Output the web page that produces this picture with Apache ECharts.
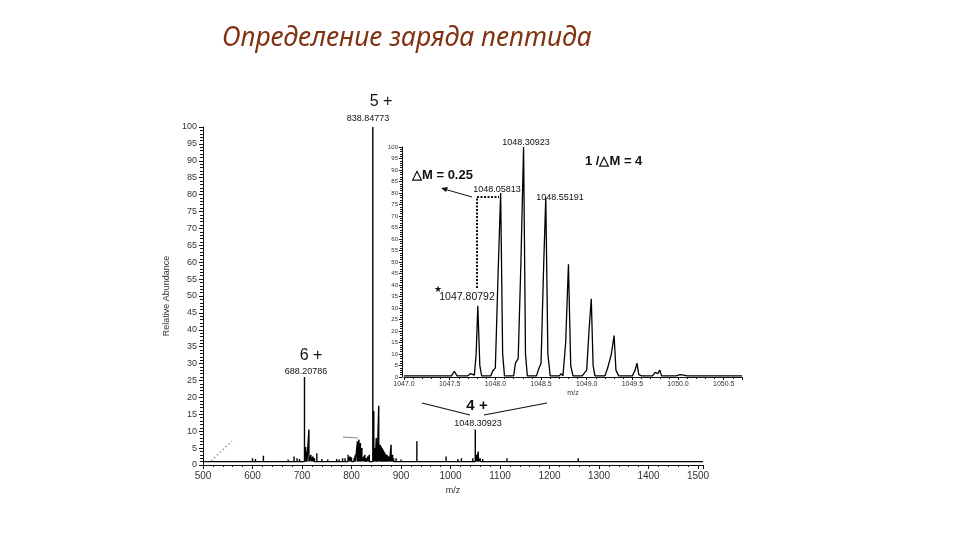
<!DOCTYPE html>
<html><head><meta charset="utf-8">
<script src="https://cdn.jsdelivr.net/npm/echarts@6/dist/echarts.min.js"></script>
<style>html,body{margin:0;padding:0;background:#fff}#c{width:960px;height:540px}</style>
</head><body><div id="c"></div>
<script>
// ---------- data ----------
const titleText = 'Определение заряда пептида';
const mainYName = 'Relative Abundance';
const xName = 'm/z';
// main spectrum: stick peaks (m/z, relative abundance)
const mainPeakMz  = [520,545,575,600,606,622,640,650,661,665,672,684,690,695,705,707.5,710,714,718,722,725,730,740,745,752,760,770,775,782,787,793,797,800,805,808,812,815,818,821,825,827,830,833,836,843,845,848,850,852,855,858,860,862,864,866,868,870,872,875,877,880,883,885,890,895,900,910,920,932,940,950,960,970,980,991,1000,1015,1022,1030,1040,1045,1050,1053,1056,1060,1065,1070,1085,1100,1114,1130,1150,1180,1200,1258,1330,1400];
const mainPeakInt = [1.3,1.2,1.3,2,1.8,2.7,1.3,1.4,1.5,1.3,1.6,2.5,2,1.8,26,5.3,4,10.5,3,2.5,2,3.5,1.8,1.5,1.6,1.4,1.8,1.6,2,2,3,2.5,2.2,2,3,7,7.5,6.5,5,2.5,3,2,2.5,3,100,16,5,8,6,17.5,6,5.5,5,4.5,4,3.5,3,3,2.5,2.5,6,3,2,2,1.5,1.6,1.5,1.4,7,1.5,1.5,1.4,1.5,1.4,2.5,1.5,1.8,2,1.5,1.5,2,10.5,3,4,2,1.8,1.5,1.5,1.4,2,1.3,1.2,1.3,1.2,2,1.2,1.2];
const mainBaseline = 1;
const mainRange = [500, 1510];
// inset: isotope cluster profile (m/z, relative abundance)
const insetMz  = [1047.0,1047.28,1047.30,1047.32,1047.52,1047.55,1047.58,1047.70,1047.73,1047.77,1047.79,1047.808,1047.83,1047.85,1047.95,1047.97,1048.00,1048.03,1048.058,1048.08,1048.10,1048.20,1048.22,1048.25,1048.28,1048.309,1048.33,1048.35,1048.45,1048.47,1048.50,1048.53,1048.552,1048.575,1048.60,1048.70,1048.72,1048.74,1048.77,1048.80,1048.825,1048.85,1048.95,1048.97,1049.00,1049.025,1049.05,1049.07,1049.09,1049.20,1049.23,1049.27,1049.30,1049.32,1049.35,1049.50,1049.53,1049.55,1049.57,1049.60,1049.72,1049.75,1049.78,1049.80,1049.82,1049.98,1050.02,1050.06,1050.10,1050.7];
const insetInt = [0.5,0.5,1.2,0.5,0.5,2.5,0.5,0.5,1.5,0.8,10,31,5,0.5,0.5,2.5,4,45,80,10,0.5,0.5,6,8,50,100,10,0.5,0.5,3,6,50,78,10,0.5,0.5,1.5,0.5,15,49,5,0.5,0.5,1,3,20,34,5,0.5,0.5,4,10,18,3,0.5,0.5,3,6,1,0.5,0.5,2,1.5,3,0.5,0.5,1,0.8,0.5,0.5];
const insetRange = [1047.0, 1050.7];
// annotation texts
const label5 = '5 +', mz5 = '838.84773';
const label6 = '6 +', mz6 = '688.20786';
const label4 = '4 +', mz4 = '1048.30923';
const insetPeakTexts = ['1048.30923','1048.05813','1048.55191','1047.80792'];
const deltaText = '△M = 0.25';
const chargeText = '1 /△M = 4';

// ---------- build series data ----------
const mainData = [[mainRange[0], mainBaseline]];
mainPeakMz.forEach((m, i) => {
  mainData.push([m, mainBaseline], [m, mainPeakInt[i]], [m, mainBaseline]);
});
mainData.push([mainRange[1], mainBaseline]);
const insetData = insetMz.map((m, i) => [m, insetInt[i]]);

const F = '"Liberation Sans", Arial, sans-serif';
const axisCol = '#111';
const labCol = '#333';

function txt(x, y, s, size, weight, align) {
  return {
    type: 'text', x: x, y: y,
    style: { text: s, fontSize: size, fontFamily: F, fontWeight: weight || 'normal',
             fill: '#111', align: align || 'center', verticalAlign: 'middle' }
  };
}

const chart = echarts.init(document.getElementById('c'), null, {renderer: 'canvas'});
chart.setOption({
  animation: false,
  backgroundColor: '#fff',
  title: {
    text: titleText, left: 217, top: 20,
    textStyle: { fontFamily: '"Noto Sans", "Open Sans", sans-serif', fontStyle: 'italic',
                 fontWeight: 'normal', fontSize: 26.5, color: '#7F3310' }
  },
  grid: [
    { left: 203, top: 127, width: 500, height: 338 },
    { left: 404, top: 147, width: 338, height: 230 }
  ],
  xAxis: [
    { gridIndex: 0, type: 'value', min: mainRange[0], max: mainRange[1], interval: 100,
      axisLine: { lineStyle: { color: axisCol, width: 1 } },
      axisTick: { length: 4, lineStyle: { color: axisCol } },
      minorTick: { show: true, splitNumber: 5, length: 2, lineStyle: { color: axisCol } },
      axisLabel: { fontSize: 10, color: labCol, fontFamily: F, margin: 6,
                   formatter: v => (v % 100 === 0 && v <= 1500) ? String(v) : '' },
      splitLine: { show: false },
      name: xName, nameLocation: 'middle', nameGap: 19,
      nameTextStyle: { fontSize: 9, color: labCol, fontFamily: F } },
    { gridIndex: 1, type: 'value', min: insetRange[0], max: insetRange[1], interval: 0.5,
      axisLine: { lineStyle: { color: axisCol, width: 1 } },
      axisTick: { length: 3, lineStyle: { color: axisCol } },
      minorTick: { show: true, splitNumber: 5, length: 2, lineStyle: { color: axisCol } },
      axisLabel: { fontSize: 7, color: labCol, fontFamily: F, margin: 4,
                   formatter: v => v <= 1050.5 ? v.toFixed(1) : '' },
      splitLine: { show: false },
      name: xName, nameLocation: 'middle', nameGap: 13,
      nameTextStyle: { fontSize: 7, color: labCol, fontFamily: F } }
  ],
  yAxis: [
    { gridIndex: 0, type: 'value', min: 0, max: 100, interval: 5,
      axisLine: { show: true, lineStyle: { color: axisCol, width: 1 } },
      axisTick: { show: true, length: 4, lineStyle: { color: axisCol } },
      minorTick: { show: true, splitNumber: 5, length: 3, lineStyle: { color: axisCol } },
      axisLabel: { fontSize: 9, color: labCol, fontFamily: F, margin: 6 },
      splitLine: { show: false },
      name: mainYName, nameLocation: 'middle', nameGap: 24, nameRotate: 90,
      nameTextStyle: { fontSize: 9, color: labCol, fontFamily: F } },
    { gridIndex: 1, type: 'value', min: 0, max: 100, interval: 5, offset: 2,
      axisLine: { show: true, lineStyle: { color: axisCol, width: 1 } },
      axisTick: { show: true, length: 3, lineStyle: { color: axisCol } },
      minorTick: { show: true, splitNumber: 5, length: 2, lineStyle: { color: axisCol } },
      axisLabel: { fontSize: 6, color: labCol, fontFamily: F, margin: 4 },
      splitLine: { show: false } }
  ],
  series: [
    { type: 'line', xAxisIndex: 0, yAxisIndex: 0, data: mainData, symbol: 'none',
      lineStyle: { color: '#000', width: 1.4 }, z: 3 },
    { type: 'line', xAxisIndex: 1, yAxisIndex: 1, data: insetData, symbol: 'none',
      lineStyle: { color: '#000', width: 1.3 }, z: 3 }
  ],
  graphic: [
    txt(381, 102, label5, 16),
    txt(368, 119, mz5, 9),
    txt(311, 356, label6, 16),
    txt(306, 372, mz6, 9),
    txt(477, 406, label4, 15, 'bold'),
    txt(478, 424, mz4, 9),
    { type: 'polyline', shape: { points: [[422,403],[470,415]] }, style: { stroke: '#111', lineWidth: 1.2, fill: null } },
    { type: 'polyline', shape: { points: [[484,415],[547,403]] }, style: { stroke: '#111', lineWidth: 1.2, fill: null } },
    txt(526, 143, insetPeakTexts[0], 9),
    txt(497, 190, insetPeakTexts[1], 9),
    txt(560, 198, insetPeakTexts[2], 9),
    txt(467, 297, insetPeakTexts[3], 10.5),
    txt(438, 290, '★', 9),
    txt(412, 175, deltaText, 13, 'bold', 'left'),
    txt(585, 161, chargeText, 13, 'bold', 'left'),
    { type: 'polyline', shape: { points: [[472,197],[444,189]] }, style: { stroke: '#111', lineWidth: 1, fill: null } },
    { type: 'polygon', shape: { points: [[441,188],[448,187],[446,192]] }, style: { fill: '#111' } },
    { type: 'polyline', shape: { points: [[477,288],[477,197],[499,197]] },
      style: { stroke: '#111', lineWidth: 2, lineDash: [2, 1.5], fill: null } },
    { type: 'polyline', shape: { points: [[211,461],[232,441]] },
      style: { stroke: '#999', lineWidth: 1.2, lineDash: [2, 2], fill: null } },
    { type: 'polyline', shape: { points: [[343,437],[358,438]] },
      style: { stroke: '#888', lineWidth: 1.2, fill: null } }
  ]
});
</script>
</body></html>
